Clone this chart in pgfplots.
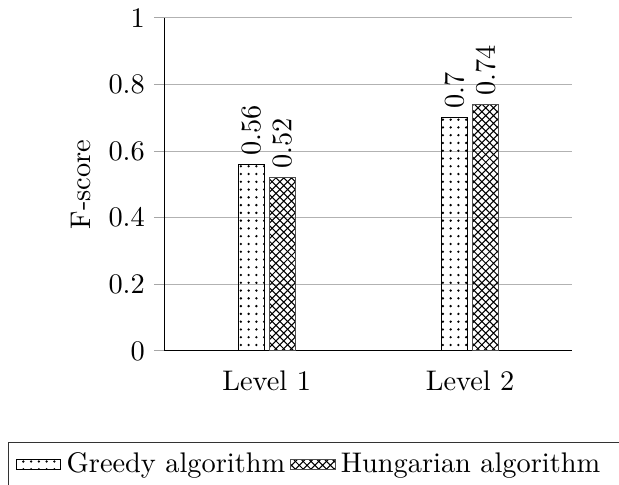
\documentclass[border=0pt]{standalone}
\usepackage{pgfplots}
\pgfplotsset{compat=1.18}
\usetikzlibrary{patterns}
\begin{document}
\begin{tikzpicture}[font=\fontsize{10.95}{13.6}\selectfont]
\begin{axis}[
  scale only axis,
  width=157.1pt, height=128.6pt,
  ybar,
  bar width=10pt,
  ymin=0, ymax=1,
  xmin=0.5, xmax=2.5,
  xtick={1,2},
  xticklabels={Level 1, Level 2},
  x tick style={draw=none},
  ytick={0,0.2,0.4,0.6,0.8,1},
  tick label style={font=\fontsize{10.95}{13.6}\selectfont},
  y tick label style={/pgf/number format/fixed},
  label style={font=\fontsize{10.95}{13.6}\selectfont},
  y tick style={draw=gray!70, thin},
  tick align=outside,
  ymajorgrids,
  grid style={gray!60, thin},
  axis lines*=left,
  axis line style={black},
  ylabel={F-score},
  nodes near coords,
  nodes near coords style={rotate=90, anchor=west, font=\fontsize{10.95}{13.6}\selectfont},
  point meta=y,
  legend columns=-1,
  legend style={at={(axis description cs:-0.386,-0.273)}, anchor=north west, draw=black!80, font=\fontsize{10.95}{13.6}\selectfont, /tikz/every even column/.append style={column sep=0pt}},
  legend image code/.code={\draw[#1] (0cm,-0.07cm) rectangle (0.6cm,0.07cm);},
]
\addplot[draw=black, pattern=dots] coordinates {(1,0.56) (2,0.7)};
\addplot[draw=black!70, pattern=crosshatch] coordinates {(1,0.52) (2,0.74)};
\legend{Greedy algorithm, Hungarian algorithm\rule{4cm}{0pt}}
\end{axis}
\pgfresetboundingbox
\useasboundingbox (-63.7pt,-51.7pt) rectangle (175.3pt,135.5pt);
\end{tikzpicture}
\end{document}
